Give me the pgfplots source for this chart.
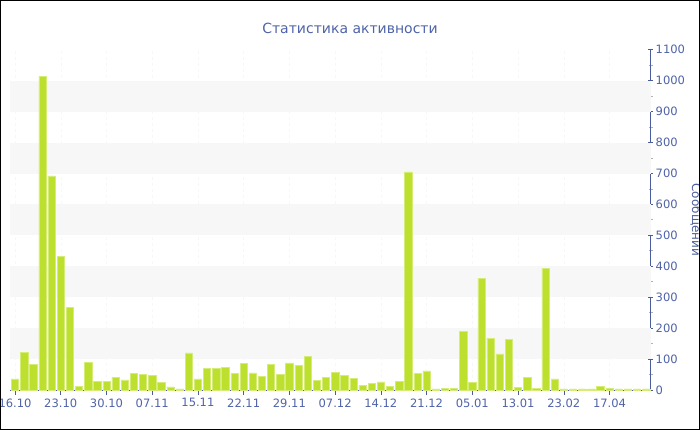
\documentclass[border=0pt]{standalone}
\usepackage{pgfplots}
\pgfplotsset{compat=1.18}
\usepackage{fontspec}
\setmainfont{DejaVu Sans}
\definecolor{barfill}{RGB}{189,224,46}
\definecolor{baredge}{RGB}{214,236,120}
\definecolor{axisblue}{RGB}{74,92,156}
\definecolor{textblue}{RGB}{79,99,168}
\definecolor{band}{RGB}{247,247,247}
\begin{document}
\begin{tikzpicture}
\useasboundingbox (0,0) rectangle (700pt,430pt);
\begin{axis}[
    at={(10.4pt,40pt)}, anchor=south west,
    scale only axis,
    width=640.3pt, height=340.2pt,
    xmin=-0.5, xmax=69.5,
    ymin=0, ymax=1100,
    axis x line*=bottom,
    axis y line*=right,
    axis line style={axisblue, line width=0.9pt},
    xtick={0,5,...,65},
    xticklabels={16.10,23.10,30.10,07.11,15.11,22.11,29.11,07.12,14.12,21.12,05.01,13.01,23.02,17.04},
    ytick={0,100,...,1100},
    minor ytick={50,150,...,1050},
    x tick style={axisblue, line width=0.6pt},
    y tick style={axisblue, line width=0.8pt},
    minor y tick style={gray!60, line width=0.8pt},
    xtick align=outside,
    ytick align=center,
    major tick length=5pt,
    minor tick length=4pt,
    xmajorgrids,
    x grid style={black!3, dashed},
    tick label style={font=\fontsize{11.5}{12}\selectfont, text=textblue},
    /pgf/number format/assume math mode=true,
    /pgf/number format/1000 sep={},
    yticklabel style={xshift=-1pt},
    title={Статистика активности},
    every axis title/.style={at={(axis description cs:0.5304,1.062)}, anchor=center, font=\fontsize{14}{16}\selectfont, text=textblue},
    ylabel={Сообщений},
    every axis y label/.style={at={(axis description cs:1.0705,0.5)}, rotate=-90, anchor=center, font=\fontsize{12}{14}\selectfont, text=axisblue},
    clip=false,
]
\foreach \lo in {100,300,500,700,900} {
    \edef\tmp{\noexpand\fill[band] (axis cs:-0.5,\lo) rectangle (axis cs:69.5,\lo+100);}
    \tmp
}
\addplot[ybar, bar width=7.3pt, fill=barfill, draw=baredge, line width=0.5pt] coordinates {
(0,36)(1,122)(2,84)(3,1015)(4,692)(5,431)(6,267)(7,12)(8,89)(9,29)
(10,28)(11,41)(12,33)(13,54)(14,50)(15,48)(16,25)(17,10)(18,4)(19,120)
(20,36)(21,69)(22,69)(23,74)(24,54)(25,85)(26,55)(27,45)(28,83)(29,51)
(30,88)(31,80)(32,109)(33,30)(34,40)(35,57)(36,48)(37,38)(38,15)(39,22)
(40,26)(41,12)(42,29)(43,705)(44,54)(45,62)(46,4)(47,5)(48,5)(49,190)
(50,24)(51,361)(52,168)(53,117)(54,163)(55,9)(56,42)(57,6)(58,393)(59,36)
(60,4)(61,4)(62,4)(63,4)(64,12)(65,5)(66,4)(67,4)(68,4)(69,4)
};
\end{axis}
\draw[black, line width=1pt] (0.5pt,0.5pt) rectangle (699.5pt,429.5pt);
\end{tikzpicture}
\end{document}
